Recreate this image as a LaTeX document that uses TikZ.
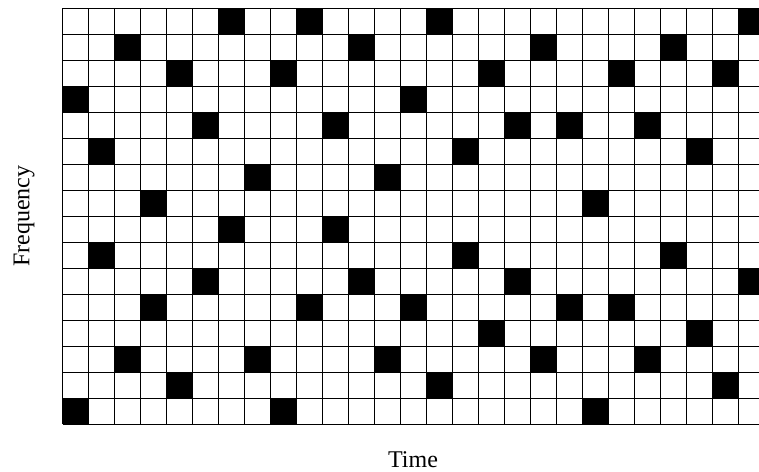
\documentclass[tikz,border=0pt]{standalone}
\usepackage{fontspec}
\setmainfont{Liberation Serif}
\begin{document}
\begin{tikzpicture}[x=1pt,y=-1pt,
  gridline/.style={line width=0.9pt,draw=black},
  cellfill/.style={fill=black},
  labeltext/.style={font=\fontsize{24}{28}\selectfont, inner sep=0pt}]
\useasboundingbox (0,0) rectangle (759,471);
\fill[white] (0,0) rectangle (759,471);
\begin{scope}
\clip (0,0) rectangle (759,471);
% filled cells: row / columns
\foreach \r/\cols in {0/{6,9,14,26},1/{2,11,18,23},2/{4,8,16,21,25},3/{0,13},
  4/{5,10,17,19,22},5/{1,15,24},6/{7,12},7/{3,20},8/{6,10},9/{1,15,23},
  10/{5,11,17,26},11/{3,9,13,19,21},12/{16,24},13/{2,7,12,18,22},
  14/{4,14,25},15/{0,8,20}}{
  \foreach \c in \cols{
    \fill[cellfill] (62.7+26*\c, 8+26*\r) rectangle ++(26,26);
  }
}
% grid lines
\foreach \i in {0,...,16}{
  \draw[gridline] (62.7, 8+26*\i) -- (766, 8+26*\i);
}
\foreach \j in {0,...,27}{
  \draw[gridline] (62.7+26*\j, 8) -- (62.7+26*\j, 424);
}
\end{scope}
\node[labeltext, rotate=90] (freq) at (24,216) {Frequency};
\node[labeltext, anchor=base] (time) at (413,467) {Time};
\end{tikzpicture}
\end{document}
